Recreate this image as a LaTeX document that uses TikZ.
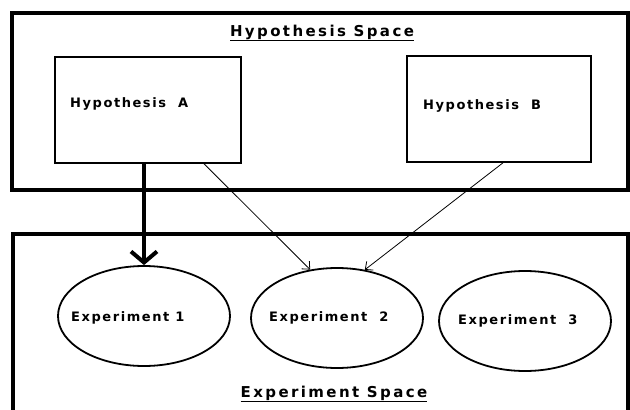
\documentclass[tikz,border=0pt]{standalone}
\usepackage{fontspec}
\setmainfont{DejaVu Sans}
\newfontfamily\labelfont{DejaVu Sans Bold}[LetterSpace=12]
\newfontfamily\titlefont{DejaVu Sans Bold}[LetterSpace=16]
\usetikzlibrary{arrows.meta,shapes.geometric}
\begin{document}
\begin{tikzpicture}[x=1pt,y=-1pt,
  spacebox/.style={draw, rectangle, line width=4pt, inner sep=0pt},
  hypbox/.style={draw, rectangle, line width=1.6pt, inner sep=0pt, minimum height=106pt},
  expell/.style={draw, ellipse, line width=1.8pt, inner sep=0pt, minimum width=172pt, minimum height=100pt},
  lbl/.style={font=\labelfont\fontsize{13}{15}\selectfont, anchor=base west, inner sep=0pt},
  ttl/.style={font=\titlefont\fontsize{15}{18}\selectfont, anchor=base, inner sep=0pt},
  thinarrow/.style={line width=0.8pt, -{Straight Barb[length=6pt,width=11pt]}},
  thickarrow/.style={line width=4pt, -{Straight Barb[length=11pt,width=26pt]}}
]
\useasboundingbox (0,0) rectangle (630,410);
\fill[white] (0,0) rectangle (630,410);

% spaces
\node[spacebox, minimum width=616pt, minimum height=177pt] (hs) at (320,101.5) {};
\node[spacebox, minimum width=615pt, minimum height=190pt] (es) at (320.5,329) {};
\node[ttl] (hst) at (322,36) {\underline{Hypothesis Space}};
\node[ttl] (est) at (334,397) {\underline{Experiment Space}};

% hypotheses
\node[hypbox, minimum width=186pt] (a) at (148,110) {};
\node[hypbox, minimum width=184pt] (b) at (499,109) {};
\node[lbl] (at) at (70,107) {Hypothesis\ \ A};
\node[lbl] (bt) at (423,109) {Hypothesis\ \ B};

% experiments
\node[expell] (e1) at (144,316) {};
\node[expell] (e2) at (337,318) {};
\node[expell] (e3) at (525,321) {};
\node[lbl] (e1t) at (71,321) {Experiment 1};
\node[lbl] (e2t) at (269,321) {Experiment\ \ 2};
\node[lbl] (e3t) at (458,324) {Experiment\ \ 3};

% connectors
\draw[thickarrow] (a.south -| e1.north) -- (e1.north);
\draw[thinarrow] ([xshift=56pt]a.south) -- (e2.119);
\draw[thinarrow] ([xshift=4pt]b.south) -- (e2.60);
\end{tikzpicture}
\end{document}
